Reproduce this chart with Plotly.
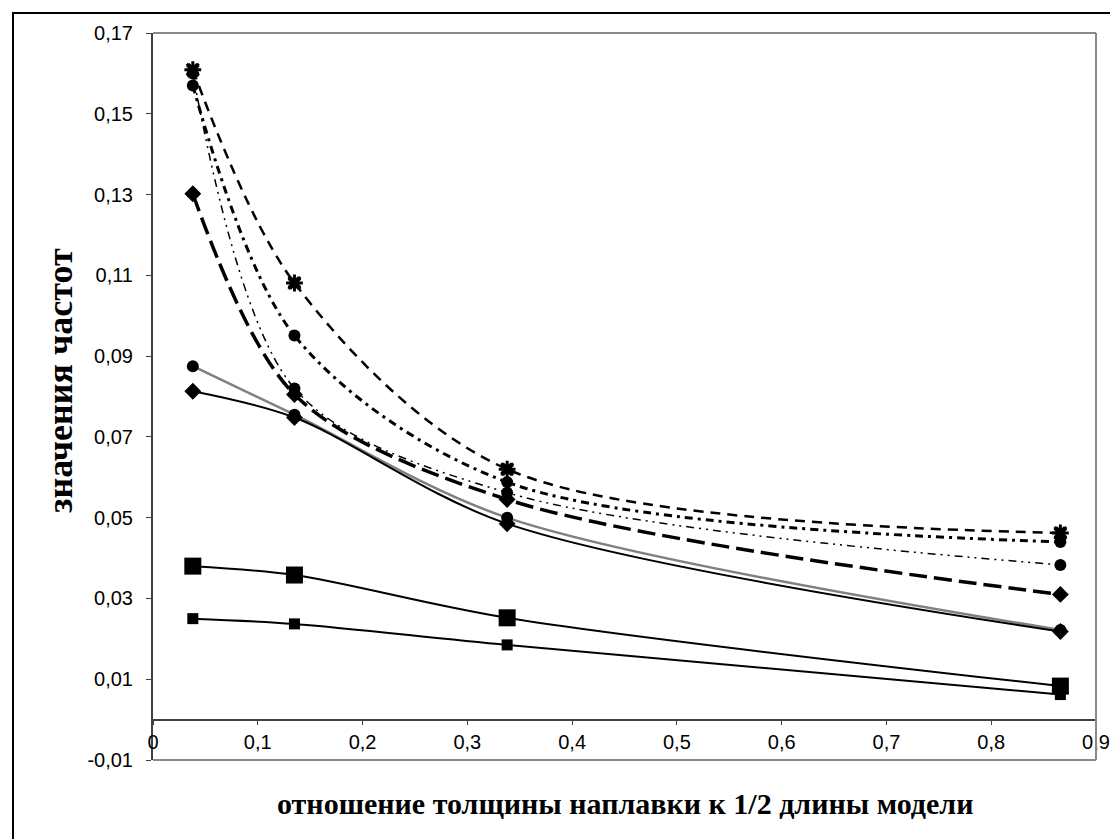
import plotly.graph_objects as go

# ---- data ----
x_vals = [0.038, 0.135, 0.338, 0.866]

s_star = [0.1609, 0.1081, 0.0620, 0.0462]        # dashed, star markers
s_circle_dd = [0.1570, 0.0951, 0.0588, 0.0440]   # thick dash-dot, circles
s_circle_ddd = [0.1600, 0.0820, 0.0562, 0.0383]  # thin dash-dot-dot, circles
s_diamond_ld = [0.1302, 0.0805, 0.0545, 0.0310]  # long dash, diamonds
s_circle_gray = [0.0875, 0.0755, 0.0500, 0.0222] # solid gray, circles
s_diamond = [0.0813, 0.0748, 0.0485, 0.0218]     # solid black, diamonds
s_big_sq = [0.0380, 0.0358, 0.0252, 0.0083]      # solid, big squares
s_small_sq = [0.0250, 0.0237, 0.0185, 0.0062]    # solid, small squares

y_ticks = [-0.01, 0.01, 0.03, 0.05, 0.07, 0.09, 0.11, 0.13, 0.15, 0.17]
y_ticktext = ["-0,01", "0,01", "0,03", "0,05", "0,07", "0,09", "0,11", "0,13", "0,15", "0,17"]
x_ticks = [0, 0.1, 0.2, 0.3, 0.4, 0.5, 0.6, 0.7, 0.8, 0.9]
x_ticktext = ["0", "0,1", "0,2", "0,3", "0,4", "0,5", "0,6", "0,7", "0,8", "0,9"]

x_title = "отношение толщины наплавки к 1/2 длины модели"
y_title = "значения частот"

W, H = 1118, 839
L, R, T, B = 145, 30, 25, 87
pw, ph = W - L - R, H - T - B

fig = go.Figure()

def add(y, dash, width, color, symbol, size):
    fig.add_trace(go.Scatter(
        x=x_vals, y=y, mode="lines+markers",
        line=dict(shape="spline", smoothing=0.9, dash=dash, width=width, color=color),
        marker=dict(symbol=symbol, size=size, color="black", line=dict(width=0)),
        showlegend=False, cliponaxis=False))

add(s_small_sq, "solid", 2, "black", "square", 11)
add(s_big_sq, "solid", 2, "black", "square", 17)
add(s_circle_gray, "solid", 2.5, "#808080", "circle", 12)
add(s_diamond, "solid", 2, "black", "diamond", 13)
add(s_diamond_ld, "18px,7px", 3.5, "black", "diamond", 13)
add(s_circle_ddd, "8px,5px,2px,5px,2px,5px", 1.5, "black", "circle", 12)
add(s_circle_dd, "8px,5px,3px,5px", 3, "black", "circle", 12)
add(s_star, "10px,7px", 2.5, "black", "asterisk-open", 14)
# star fill overlay
fig.add_trace(go.Scatter(x=x_vals, y=s_star, mode="markers",
                         marker=dict(symbol="x", size=12, color="black", line=dict(width=0)),
                         showlegend=False, cliponaxis=False))
fig.update_traces(selector=dict(marker_symbol="asterisk-open"),
                  marker=dict(line=dict(width=3, color="black")))

y0_frac = (0 - (-0.01)) / 0.18

fig.update_layout(
    width=W, height=H,
    margin=dict(l=L, r=R, t=T, b=B),
    paper_bgcolor="white", plot_bgcolor="white",
    font=dict(family="Liberation Sans", size=20, color="black"),
    xaxis=dict(range=[0, 0.9], tickvals=x_ticks, ticktext=x_ticktext,
               showgrid=False, zeroline=False, showline=True, linecolor="#404040", linewidth=1.5,
               ticks="outside", ticklen=5, tickcolor="#404040",
               anchor="free", position=y0_frac),
    yaxis=dict(range=[-0.01, 0.17], tickvals=y_ticks, ticktext=y_ticktext,
               showgrid=False, zeroline=False, showline=True, linecolor="#404040", linewidth=2,
               ticks="outside", ticklen=5, tickcolor="#404040", ticklabelstandoff=9),
    shapes=[
        dict(type="line", xref="paper", yref="paper", x0=0, x1=1, y0=1, y1=1,
             line=dict(color="#888888", width=2)),
        dict(type="line", xref="paper", yref="paper", x0=1, x1=1, y0=0, y1=1,
             line=dict(color="#888888", width=2)),
        dict(type="line", xref="paper", yref="paper", x0=0, x1=1, y0=0, y1=0,
             line=dict(color="#888888", width=2)),
        dict(type="rect", xref="paper", yref="paper",
             x0=(5 - L) / pw, x1=(W - 6 - L) / pw,
             y0=(H - B - (H - 6)) / ph, y1=(H - B - 5) / ph,
             line=dict(color="black", width=2)),
    ],
    annotations=[
        dict(text=f"<b>{x_title}</b>", xref="paper", yref="paper", x=0.5,
             y=(H - B - 795) / ph, xanchor="center", yanchor="middle", showarrow=False,
             font=dict(family="Liberation Serif", size=30)),
        dict(text=f"<b>{y_title}</b>", xref="paper", yref="paper",
             x=(52 - L) / pw, y=(H - B - 373) / ph, xanchor="center", yanchor="middle",
             textangle=-90, showarrow=False,
             font=dict(family="Liberation Serif", size=36)),
    ],
)

fig.write_html("out.html")
